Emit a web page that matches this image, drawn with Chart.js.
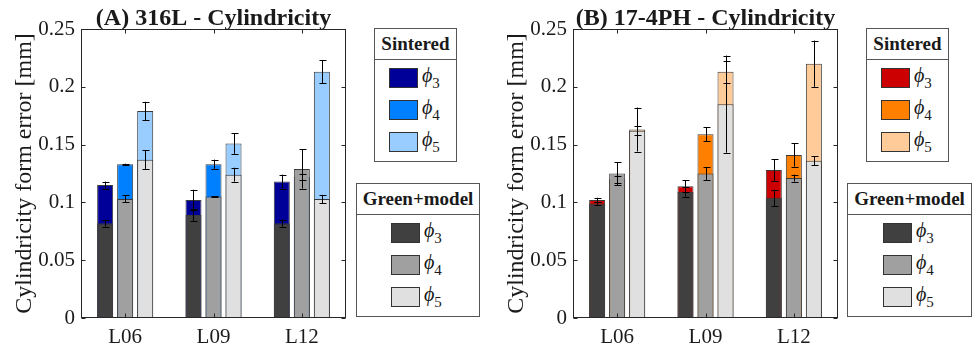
<!DOCTYPE html>
<html>
<head>
<meta charset="utf-8">
<script src="https://cdn.jsdelivr.net/npm/chart.js@4"></script>
<style>
  body { margin: 0; background: #fff; width: 975px; height: 349px; position: relative; overflow: hidden;
         font-family: 'Liberation Serif', 'Times New Roman', serif; color: #1a1a1a; }
  .panel { position: absolute; top: 0; }
  .lg { position: absolute; border: 1px solid #555; background: #fff; box-sizing: border-box; }
  .lg .hd { height: 30px; border-bottom: 1px solid #555; font-weight: bold; font-size: 19px;
            text-align: center; line-height: 30px; }
  .lg .row { position: absolute; height: 20px; }
  .lg .sw { position: absolute; left: 0; top: 0; width: 29px; height: 20px; border: 1px solid #333; box-sizing: border-box; }
  .lg .tx { position: absolute; left: 33px; top: -4px; font-style: italic; font-size: 20px; white-space: nowrap;
            font-family: 'Liberation Serif', 'DejaVu Serif', serif; }
  .lg .tx sub { font-style: normal; font-size: 15px; font-family: 'Liberation Serif', serif; vertical-align: -6px; }
</style>
</head>
<body>
<div class="panel" style="left:0"><canvas id="cA" width="352" height="349"></canvas></div>
<div class="panel" style="left:492px"><canvas id="cB" width="352" height="349"></canvas></div>
<div id="legends"></div>
<script>
// ----- data -----
const categories = ['L06', 'L09', 'L12']
const phiLabels = ['3', '4', '5']
const yTicks = [0, 0.05, 0.1, 0.15, 0.2, 0.25]
const yTickLabels = ['0', '0.05', '0.1', '0.15', '0.2', '0.25']

// (A) 316L
const a_sint3 = [0.115, 0.102, 0.118]
const a_sint4 = [0.133, 0.133, 0.122]
const a_sint5 = [0.179, 0.151, 0.213]
const a_sint3_err = [0.003, 0.009, 0.006]
const a_sint4_err = [0.0005, 0.004, 0.003]
const a_sint5_err = [0.008, 0.009, 0.010]
const a_green3 = [0.082, 0.089, 0.082]
const a_green4 = [0.103, 0.105, 0.129]
const a_green5 = [0.137, 0.124, 0.103]
const a_green3_err = [0.003, 0.005, 0.003]
const a_green4_err = [0.003, 0.0005, 0.017]
const a_green5_err = [0.008, 0.006, 0.0035]

// (B) 17-4PH
const b_sint3 = [0.102, 0.114, 0.128]
const b_sint4 = [0.120, 0.159, 0.141]
const b_sint5 = [0.163, 0.213, 0.220]
const b_sint3_err = [0.002, 0.005, 0.0095]
const b_sint4_err = [0.003, 0.006, 0.010]
const b_sint5_err = [0.019, 0.0095, 0.020]
const b_green3 = [0.099, 0.109, 0.104]
const b_green4 = [0.125, 0.125, 0.121]
const b_green5 = [0.162, 0.185, 0.136]
const b_green3_err = [0.001, 0.004, 0.007]
const b_green4_err = [0.010, 0.0055, 0.003]
const b_green5_err = [0.004, 0.042, 0.004]

const blues = ['#000099', '#0080ff', '#99ccff']
const oranges = ['#cc0000', '#ff8000', '#ffcc99']
const grays = ['#404040', '#a0a0a0', '#e0e0e0']

const textColor = '#1a1a1a'
const serif = "'Liberation Serif', 'Times New Roman', serif"

// ----- plugins -----
const errorBars = {
  id: 'errorBars',
  afterDatasetsDraw(chart) {
    const { ctx, scales: { y } } = chart
    ctx.save()
    ctx.strokeStyle = '#000'
    ctx.lineWidth = 1
    chart.data.datasets.forEach((ds, di) => {
      const meta = chart.getDatasetMeta(di)
      meta.data.forEach((bar, i) => {
        const v = ds.data[i], e = ds.err[i]
        const x = Math.round(bar.x) + 0.5
        const yt = y.getPixelForValue(v + e), yb = y.getPixelForValue(v - e)
        ctx.beginPath()
        ctx.moveTo(x, yt); ctx.lineTo(x, yb)
        ctx.moveTo(x - 3, Math.round(yt) + 0.5); ctx.lineTo(x + 4, Math.round(yt) + 0.5)
        ctx.moveTo(x - 3, Math.round(yb) + 0.5); ctx.lineTo(x + 4, Math.round(yb) + 0.5)
        ctx.stroke()
      })
    })
    ctx.restore()
  }
}

const boxAndTitle = {
  id: 'boxAndTitle',
  afterDraw(chart, args, opts) {
    const { ctx, chartArea: a, scales: { x, y } } = chart
    ctx.save()
    ctx.strokeStyle = '#262626'
    ctx.lineWidth = 1
    const l = Math.round(a.left) + 0.5, r = Math.round(a.right) - 0.5
    const t = Math.round(a.top) + 0.5, b = Math.round(a.bottom) - 0.5
    ctx.strokeRect(l, t, r - l, b - t)
    ctx.beginPath()
    yTicks.forEach(v => {
      const py = Math.round(y.getPixelForValue(v)) + 0.5
      ctx.moveTo(l, py); ctx.lineTo(l + 4, py)
      ctx.moveTo(r, py); ctx.lineTo(r - 4, py)
    })
    categories.forEach((c, i) => {
      const px = Math.round(x.getPixelForValue(i)) + 0.5
      ctx.moveTo(px, t); ctx.lineTo(px, t + 4)
      ctx.moveTo(px, b); ctx.lineTo(px, b - 4)
    })
    ctx.stroke()
    ctx.fillStyle = textColor
    ctx.font = 'bold 24px ' + serif
    ctx.textAlign = 'center'
    ctx.textBaseline = 'alphabetic'
    ctx.fillText(opts.text, (a.left + a.right) / 2, a.top - 4)
    ctx.restore()
  }
}

function makeChart(id, title, sint, sintErr, green, greenErr, colors) {
  const datasets = []
  for (let k = 0; k < 3; k++) {
    datasets.push({
      label: 'Green+model ' + phiLabels[k], data: green[k], err: greenErr[k], stack: 'p' + k, order: 0,
      backgroundColor: grays[k], borderColor: '#3a3a3a', borderWidth: 1,
    })
  }
  for (let k = 0; k < 3; k++) {
    datasets.push({
      label: 'Sintered ' + phiLabels[k], data: sint[k], err: sintErr[k], stack: 'p' + k, order: 1,
      backgroundColor: colors[k], borderColor: '#3a3a3a', borderWidth: 1,
    })
  }
  return new Chart(document.getElementById(id), {
    type: 'bar',
    data: { labels: categories, datasets },
    options: {
      responsive: false,
      animation: false,
      categoryPercentage: 0.68,
      barPercentage: 0.8,
      layout: { padding: { top: 29, right: 6, left: 0, bottom: 0 } },
      plugins: {
        legend: { display: false },
        tooltip: { enabled: false },
        boxAndTitle: { text: title },
      },
      scales: {
        x: {
          stacked: true,
          grid: { display: false, drawTicks: false },
          border: { display: false },
          ticks: { color: textColor, font: { family: serif, size: 21 }, padding: 7 },
          afterFit: s => { s.height = 31 },
        },
        y: {
          stacked: false,
          min: 0, max: 0.25,
          afterBuildTicks: s => { s.ticks = yTicks.map(v => ({ value: v })) },
          grid: { display: false, drawTicks: false },
          border: { display: false },
          ticks: { color: textColor, font: { family: serif, size: 21 }, padding: 6,
                   callback: (v, i) => yTickLabels[i] },
          title: { display: true, text: 'Cylindricity form error [mm]', color: textColor,
                   font: { family: serif, size: 24 }, padding: { top: 10, bottom: 0 } },
          afterFit: s => { s.width = 81 },
        },
      },
    },
    plugins: [errorBars, boxAndTitle],
  })
}

makeChart('cA', '(A) 316L - Cylindricity',
  [a_sint3, a_sint4, a_sint5], [a_sint3_err, a_sint4_err, a_sint5_err],
  [a_green3, a_green4, a_green5], [a_green3_err, a_green4_err, a_green5_err], blues)
makeChart('cB', '(B) 17-4PH - Cylindricity',
  [b_sint3, b_sint4, b_sint5], [b_sint3_err, b_sint4_err, b_sint5_err],
  [b_green3, b_green4, b_green5], [b_green3_err, b_green4_err, b_green5_err], oranges)

// ----- legends -----
function legend(left, top, width, title, colors, swLeft) {
  const box = document.createElement('div')
  box.className = 'lg'
  Object.assign(box.style, { left: left + 'px', top: top + 'px', width: width + 'px', height: '134px' })
  box.innerHTML = '<div class="hd">' + title + '</div>'
  colors.forEach((c, k) => {
    const row = document.createElement('div')
    row.className = 'row'
    Object.assign(row.style, { left: swLeft + 'px', top: (39 + 32 * k) + 'px' })
    row.innerHTML = '<div class="sw" style="background:' + c + '"></div>' +
      '<div class="tx">\u03d5<sub>' + phiLabels[k] + '</sub></div>'
    box.appendChild(row)
  })
  document.getElementById('legends').appendChild(box)
}
legend(374, 28, 83, 'Sintered', blues, 14)
legend(356, 183, 124, 'Green+model', grays, 34)
legend(866, 28, 83, 'Sintered', oranges, 14)
legend(847, 183, 125, 'Green+model', grays, 35)
</script>
</body>
</html>
